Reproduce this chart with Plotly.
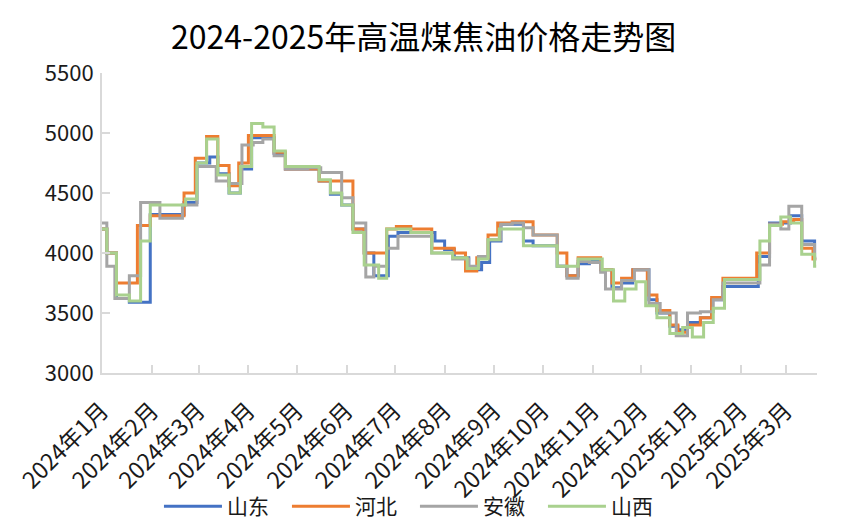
import plotly.graph_objects as go

# ---- data (change points of step-like daily prices, yuan/ton) ----
sd_dates = ['2024-01-01', '2024-01-04', '2024-01-10', '2024-01-18', '2024-01-31', '2024-02-21', '2024-02-29',
            '2024-03-08', '2024-03-13', '2024-03-20', '2024-03-27', '2024-04-03', '2024-04-17', '2024-04-24',
            '2024-05-15', '2024-05-22', '2024-05-29', '2024-06-05', '2024-06-12', '2024-06-18', '2024-06-27',
            '2024-07-03', '2024-07-26', '2024-08-01', '2024-08-07', '2024-08-16', '2024-08-24', '2024-08-29',
            '2024-09-05', '2024-09-19', '2024-09-25', '2024-10-10', '2024-10-16', '2024-10-23', '2024-10-30',
            '2024-11-06', '2024-11-13', '2024-11-19', '2024-11-26', '2024-12-06', '2024-12-11', '2024-12-19',
            '2024-12-24', '2024-12-30', '2025-01-07', '2025-01-14', '2025-01-21', '2025-02-12', '2025-02-19',
            '2025-03-04', '2025-03-11', '2025-03-19', '2025-03-20']
sd_values = [4200, 4000, 3620, 3590, 4320, 4420, 4750,
             4800, 4660, 4500, 4700, 4960, 4830, 4700,
             4600, 4490, 4400, 4200, 4000, 3810, 4140,
             4170, 4100, 4030, 3960, 3860, 3920, 4100,
             4240, 4100, 4060, 3890, 3810, 3910, 3930,
             3860, 3710, 3750, 3860, 3610, 3500, 3390,
             3360, 3420, 3460, 3610, 3720, 3970, 4250,
             4310, 4100, 3950, 3950]

hb_dates = ['2024-01-01', '2024-01-04', '2024-01-10', '2024-01-23', '2024-01-31', '2024-02-21', '2024-02-28',
            '2024-03-06', '2024-03-13', '2024-03-20', '2024-03-26', '2024-04-01', '2024-04-17', '2024-04-24',
            '2024-05-15', '2024-06-05', '2024-06-12', '2024-06-26', '2024-07-02', '2024-07-11', '2024-07-24',
            '2024-08-07', '2024-08-14', '2024-08-21', '2024-08-28', '2024-09-03', '2024-09-12', '2024-09-25',
            '2024-10-10', '2024-10-16', '2024-10-23', '2024-11-06', '2024-11-13', '2024-11-19', '2024-11-26',
            '2024-12-05', '2024-12-11', '2024-12-19', '2024-12-24', '2024-12-30', '2025-01-07', '2025-01-14',
            '2025-01-21', '2025-02-11', '2025-02-19', '2025-02-27', '2025-03-06', '2025-03-11', '2025-03-18',
            '2025-03-20']
hb_values = [4200, 4000, 3750, 4230, 4310, 4500, 4790,
             4970, 4730, 4560, 4750, 4980, 4840, 4700,
             4600, 4200, 4000, 4200, 4220, 4200, 4040,
             4000, 3850, 3960, 4150, 4250, 4260, 4150,
             4000, 3810, 3960, 3860, 3750, 3790, 3860,
             3650, 3520, 3400, 3340, 3400, 3460, 3630,
             3790, 4000, 4240, 4260, 4280, 4040, 3950,
             3950]

ah_dates = ['2024-01-01', '2024-01-04', '2024-01-09', '2024-01-18', '2024-01-25', '2024-02-06', '2024-02-20',
            '2024-02-29', '2024-03-12', '2024-03-20', '2024-03-28', '2024-04-04', '2024-04-10', '2024-04-17',
            '2024-04-24', '2024-05-08', '2024-05-16', '2024-05-29', '2024-06-05', '2024-06-13', '2024-06-18',
            '2024-06-26', '2024-07-03', '2024-07-24', '2024-08-06', '2024-08-16', '2024-08-22', '2024-08-28',
            '2024-09-05', '2024-09-12', '2024-09-19', '2024-09-25', '2024-10-10', '2024-10-16', '2024-10-23',
            '2024-10-30', '2024-11-06', '2024-11-09', '2024-11-19', '2024-11-27', '2024-12-06', '2024-12-13',
            '2024-12-23', '2024-12-30', '2025-01-07', '2025-01-15', '2025-01-21', '2025-02-13', '2025-02-19',
            '2025-02-26', '2025-03-03', '2025-03-11', '2025-03-19', '2025-03-20']
ah_values = [4250, 3890, 3620, 3810, 4420, 4290, 4400,
             4720, 4600, 4580, 4900, 4920, 4950, 4810,
             4700, 4710, 4670, 4460, 4250, 3800, 3890,
             4040, 4140, 4000, 3950, 3890, 3970, 4110,
             4240, 4250, 4210, 4150, 3890, 3790, 3930,
             3920, 3840, 3700, 3770, 3860, 3580, 3500,
             3310, 3500, 3510, 3610, 3750, 3900, 4240,
             4200, 4390, 4070, 3960, 3960]

sx_dates = ['2024-01-01', '2024-01-04', '2024-01-10', '2024-01-18', '2024-01-25', '2024-01-31', '2024-02-22',
            '2024-02-29', '2024-03-06', '2024-03-13', '2024-03-20', '2024-03-27', '2024-04-03', '2024-04-10',
            '2024-04-17', '2024-04-24', '2024-05-15', '2024-05-22', '2024-05-29', '2024-06-05', '2024-06-12',
            '2024-06-21', '2024-06-26', '2024-07-11', '2024-07-24', '2024-08-06', '2024-08-15', '2024-08-22',
            '2024-08-28', '2024-09-04', '2024-09-19', '2024-10-10', '2024-10-23', '2024-11-07', '2024-11-14',
            '2024-11-21', '2024-11-28', '2024-12-04', '2024-12-11', '2024-12-19', '2024-12-27', '2025-01-02',
            '2025-01-09', '2025-01-15', '2025-01-22', '2025-02-13', '2025-02-19', '2025-02-26', '2025-03-04',
            '2025-03-11', '2025-03-19', '2025-03-20']
sx_values = [4200, 4000, 3650, 3600, 4100, 4400, 4450,
             4750, 4950, 4650, 4500, 4720, 5080, 5050,
             4850, 4720, 4610, 4500, 4400, 4170, 3900,
             3790, 4200, 4170, 4000, 3960, 3870, 3950,
             4110, 4200, 4060, 3890, 3950, 3860, 3600,
             3700, 3760, 3560, 3460, 3330, 3380, 3300,
             3420, 3540, 3780, 4100, 4230, 4300, 4250,
             3990, 3890, 3890]

series_names = ['山东', '河北', '安徽', '山西']
series_colors = ['#4472C4', '#ED7D31', '#A5A5A5', '#A9D18E']

month_ticks = ['2024-01-01', '2024-02-01', '2024-03-01', '2024-04-01', '2024-05-01', '2024-06-01',
               '2024-07-01', '2024-08-01', '2024-09-01', '2024-10-01', '2024-11-01', '2024-12-01',
               '2025-01-01', '2025-02-01', '2025-03-01']
month_labels = ['2024年1月', '2024年2月', '2024年3月', '2024年4月', '2024年5月', '2024年6月',
                '2024年7月', '2024年8月', '2024年9月', '2024年10月', '2024年11月', '2024年12月',
                '2025年1月', '2025年2月', '2025年3月']

title_text = '2024-2025年高温煤焦油价格走势图'

FONT = 'Noto Sans CJK SC'
AXIS_COLOR = '#D9D9D9'
TEXT_COLOR = '#1a1a1a'

fig = go.Figure()
all_series = [(sd_dates, sd_values), (hb_dates, hb_values), (ah_dates, ah_values), (sx_dates, sx_values)]
for (d, v), name, color in zip(all_series, series_names, series_colors):
    fig.add_trace(go.Scatter(x=d, y=v, name=name, mode='lines', line_shape='hv',
                             line=dict(color=color, width=3)))

fig.update_layout(
    width=854, height=526,
    paper_bgcolor='white', plot_bgcolor='white',
    margin=dict(l=102, r=37, t=73, b=153, autoexpand=False),
    font=dict(family=FONT, size=21, color=TEXT_COLOR),
    title=dict(text=title_text, x=0.496, xanchor='center', y=0.928, yanchor='middle',
               font=dict(family=FONT, size=32, color='#000000')),
    showlegend=True,
    legend=dict(orientation='h', x=0.4377, xanchor='center', y=-0.445, yanchor='middle',
                font=dict(family=FONT, size=21, color=TEXT_COLOR),
                itemwidth=58, entrywidth=55, entrywidthmode='pixels', bgcolor='rgba(0,0,0,0)'),
)
fig.update_xaxes(
    type='date', range=['2024-01-01', '2025-03-20 12:00'],
    tickmode='array', tickvals=month_ticks, ticktext=month_labels, tickangle=-45,
    showgrid=False, zeroline=False,
    showline=True, linecolor=AXIS_COLOR, linewidth=2,
    ticks='inside', ticklen=8, tickwidth=2, tickcolor=AXIS_COLOR,
    tickfont=dict(family=FONT, size=23, color=TEXT_COLOR),
    ticklabelstandoff=13,
)
fig.update_yaxes(
    range=[3000, 5500], dtick=500, tick0=3000,
    showgrid=False, zeroline=False,
    showline=True, linecolor=AXIS_COLOR, linewidth=2,
    ticks='inside', ticklen=8, tickwidth=2, tickcolor=AXIS_COLOR,
    tickfont=dict(family=FONT, size=22, color=TEXT_COLOR),
    ticklabelstandoff=2,
)

fig.write_html('out.html', config={'displayModeBar': False},
               post_script="document.body.style.margin='0';")
